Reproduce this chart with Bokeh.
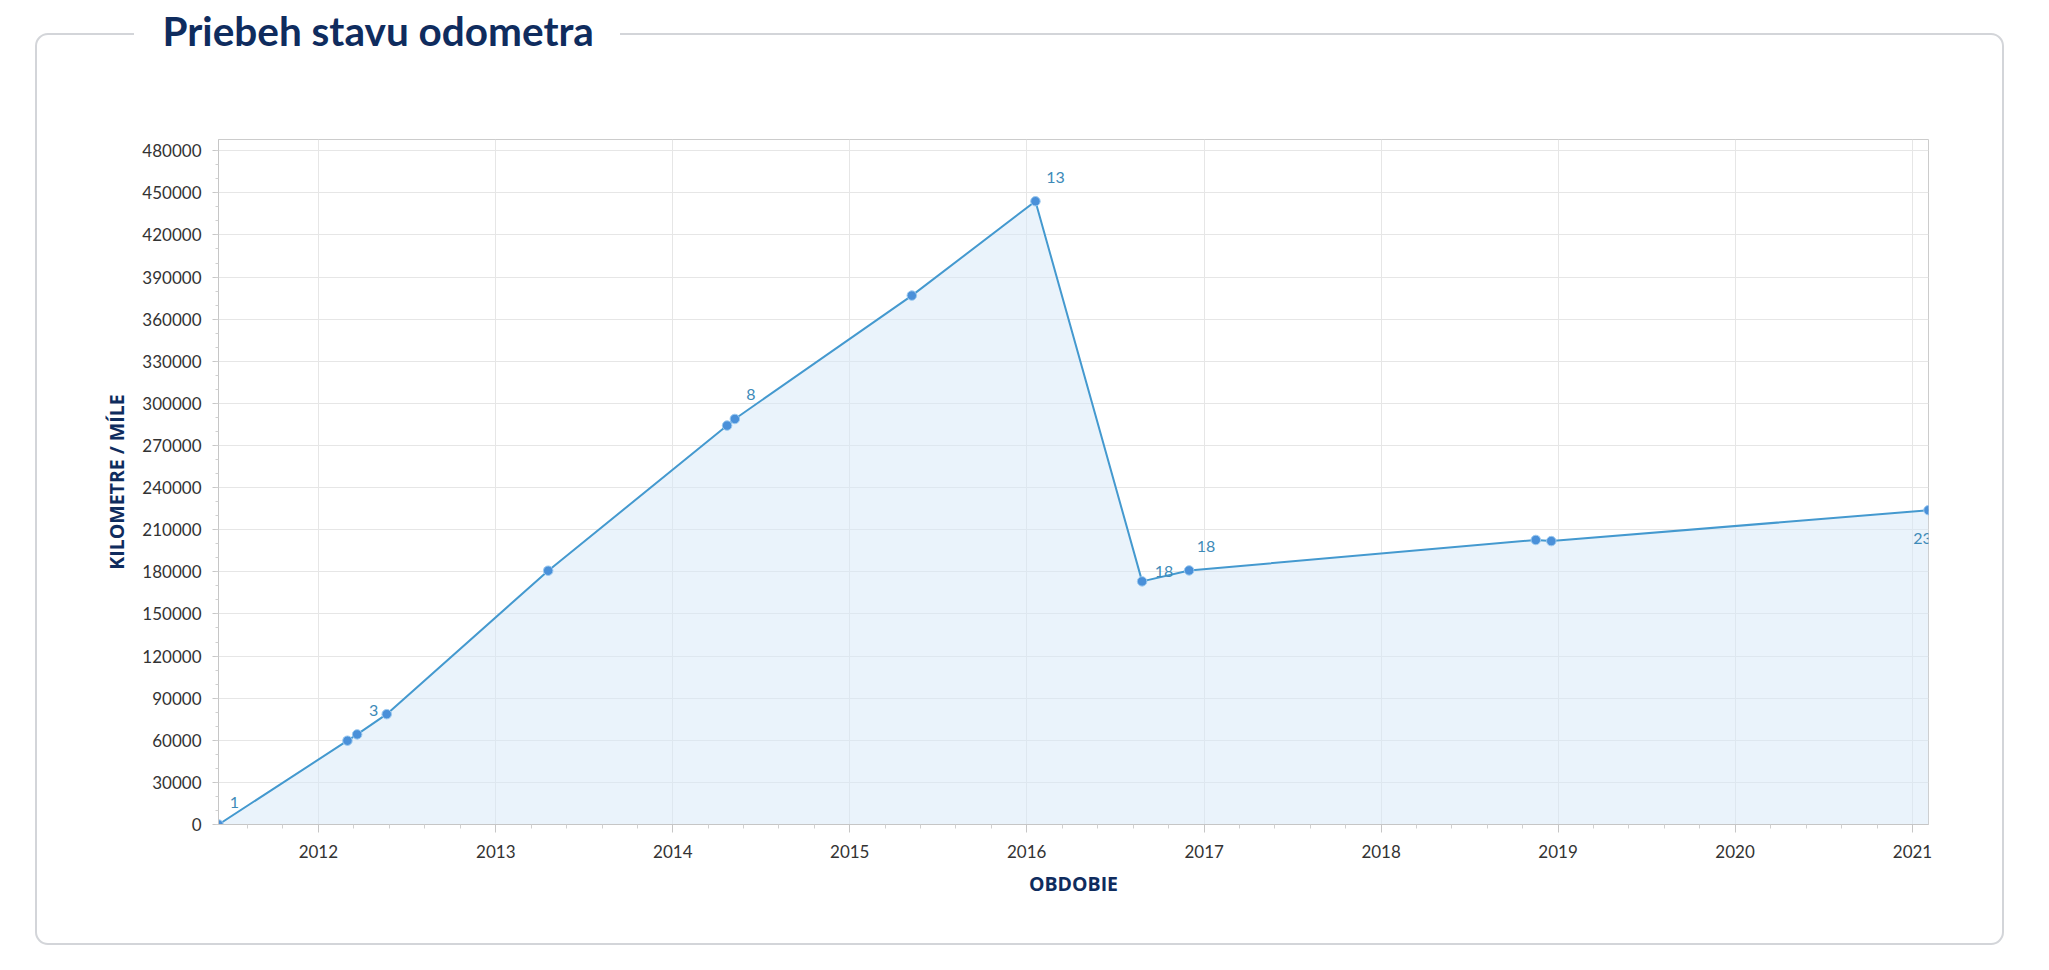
import pandas as pd
from urllib.parse import quote
from bokeh.plotting import figure
from bokeh.core.properties import value
from bokeh.models import (ColumnDataSource, FixedTicker, DatetimeTickFormatter, NumeralTickFormatter,
                          LabelSet, Range1d, Title)
from bokeh.embed import file_html
from bokeh.resources import INLINE

# ---- data ----
dates = ["2011-06-09", "2012-03-01", "2012-03-21", "2012-05-21", "2013-04-19", "2014-04-23",
         "2014-05-09", "2015-05-09", "2016-01-19", "2016-08-26", "2016-12-01", "2018-11-16",
         "2018-12-18", "2021-02-03"]
odometer = [0, 59700, 64200, 78600, 180800, 284200, 288900, 376800, 444000, 173200, 181000,
            202700, 201900, 223900]

label_point = [0, 3, 6, 8, 10, 10, 13]          # index of the point each label belongs to
label_text = ["1", "3", "8", "13", "18", "18", "23"]

years = list(range(2012, 2022))
y_ticks = list(range(0, 480001, 30000))

title_text = "Priebeh stavu odometra"
x_title = "OBDOBIE"
y_title = "KILOMETRE / MÍLE"

# ---- styling ----
NAVY = "#0f2c5e"
LINE = "#4499cf"
SHIFT = 84   # canvas is drawn SHIFT px taller and pulled up by CSS so the title can sit on the card border


def ms(s):
    return pd.Timestamp(s).value / 1e6


xs = [ms(d) for d in dates]
src = ColumnDataSource(dict(x=xs, y=odometer))

label_dx = [16, -13, 16, 20, -25, 17, -6]
label_dy = [22, 4, 24, 24, -1, 24, -28]
lsrc = ColumnDataSource(dict(
    x=[xs[i] for i in label_point],
    y=[odometer[i] for i in label_point],
    text=label_text, dx=label_dx, dy=label_dy))

p = figure(width=2049, height=970 + SHIFT, x_axis_type="datetime", output_backend="svg",
           toolbar_location=None,
           x_range=Range1d(xs[0], xs[-1]), y_range=Range1d(0, 488000),
           min_border_left=218, min_border_right=121, min_border_top=139 + SHIFT,
           min_border_bottom=146)
p.background_fill_color = "white"
p.border_fill_color = None
p.outline_line_color = "#cccccc"
p.outline_line_width = 1

# card border drawn as page decoration behind the transparent canvas (gap left for the title)
t, b = 34 + SHIFT, 944 + SHIFT
card = ("<svg xmlns='http://www.w3.org/2000/svg' width='2049' height='%d'>"
        "<path d='M620 %d H1991 A12 12 0 0 1 2003 %d V%d A12 12 0 0 1 1991 %d H48 "
        "A12 12 0 0 1 36 %d V%d A12 12 0 0 1 48 %d H134' fill='none' stroke='#d3d5d9' "
        "stroke-width='2'/></svg>") % (970 + SHIFT, t, t + 12, b - 12, b, b - 12, t + 12, t)
p.styles = {"background-image": 'url("data:image/svg+xml,' + quote(card) + '")',
            "background-repeat": "no-repeat", "background-position": "0 0",
            "background-color": "white", "margin-top": "-%dpx" % SHIFT}

# ticks
year_ms = [ms(f"{y}-01-01") for y in years]
minor = []
for y in range(2011, 2022):
    a, c = ms(f"{y}-01-01"), ms(f"{y + 1}-01-01")
    for k in range(1, 5):
        minor.append(a + (c - a) * k / 5)
p.xaxis.ticker = FixedTicker(ticks=year_ms, minor_ticks=minor)
fmt = "%Y"
p.xaxis.formatter = DatetimeTickFormatter(microseconds=fmt, milliseconds=fmt, seconds=fmt,
                                          minsec=fmt, minutes=fmt, hourmin=fmt, hours=fmt,
                                          days=fmt, months=fmt, years=fmt)
p.yaxis.ticker = FixedTicker(ticks=y_ticks, minor_ticks=list(range(0, 488001, 10000)))
p.yaxis.formatter = NumeralTickFormatter(format="0")

for ax in (p.xaxis, p.yaxis):
    ax.axis_line_color = "#c6c6c6"
    ax.major_tick_line_color = "#c6c6c6"
    ax.minor_tick_line_color = "#d0d0d0"
    ax.major_tick_in = 0
    ax.minor_tick_in = 0
    ax.major_label_text_font = "Lato"
    ax.major_label_text_font_size = "17px"
    ax.major_label_text_color = "#333333"
    ax.axis_label_text_font = "Open Sans"
    ax.axis_label_text_font_style = "bold"
    ax.axis_label_text_font_size = "19.5px"
    ax.axis_label_text_color = NAVY

p.xaxis.major_tick_out = 8
p.xaxis.minor_tick_out = 4
p.yaxis.major_tick_out = 6
p.yaxis.minor_tick_out = 3
p.xaxis.major_label_standoff = 12
p.yaxis.major_label_standoff = 11
p.xaxis.axis_label = x_title
p.yaxis.axis_label = y_title
p.xaxis.axis_label_standoff = 9
p.yaxis.axis_label_standoff = 9

p.xgrid.grid_line_color = "#e6e6e6"
p.ygrid.grid_line_color = "#e6e6e6"

# series
p.varea(x="x", y1=0, y2="y", source=src, fill_color="#d5e8f7", fill_alpha=0.5)
p.line("x", "y", source=src, line_color=LINE, line_width=2)
p.scatter("x", "y", source=src, size=9.5, fill_color="#4a90d9", line_color="#9ccaf0", line_width=1)

p.add_layout(LabelSet(x="x", y="y", text="text", source=lsrc, x_offset="dx", y_offset="dy",
                      text_align="center", text_baseline="middle", text_font=value("Lato"),
                      text_font_size="16px", text_color="#3d8ab8"))

# title sitting on the card border
p.title = Title(text=title_text, align="left", offset=-56, standoff=169,
                text_font="Lato", text_font_style="bold", text_font_size="40.5px",
                text_color=NAVY)

open("out.html", "w").write(file_html(p, INLINE))
